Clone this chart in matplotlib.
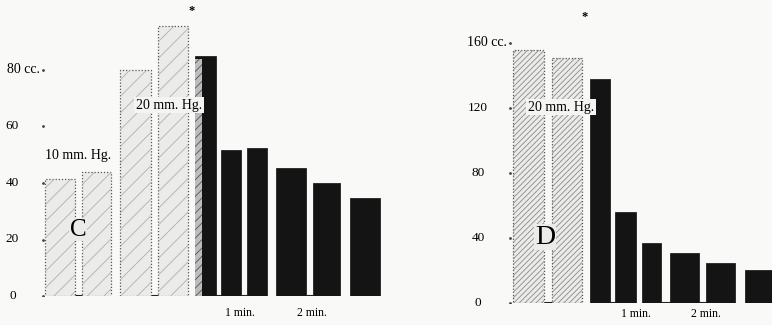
import matplotlib.pyplot as plt

plt.rcParams['font.family'] = ['Liberation Serif', 'DejaVu Serif']
plt.rcParams['hatch.linewidth'] = 0.6

# panel C (10 and 20 mm. Hg.), volumes in cc.
c_values = [41.4, 43.9, 80, 95.6, 85, 51.7, 52.4, 45.3, 40, 34.7]
c_kind = ['h', 'h', 'h', 'h', 'b', 'b', 'b', 'b', 'b', 'b']
c_ticks = [0, 20, 40, 60, 80]
c_ticklabels = ['0', '20', '40', '60', '80 cc.']

# panel D (20 mm. Hg.)
d_values = [156, 151, 138, 56, 37, 30.7, 24.6, 20.3]
d_kind = ['h', 'h', 'b', 'b', 'b', 'b', 'b', 'b']
d_ticks = [0, 40, 80, 120, 160]
d_ticklabels = ['0', '40', '80', '120', '160 cc.']

# layout (pixel units of the panels)
c_x = [60, 96.5, 135.5, 173, 205.5, 231, 257, 291, 326.5, 365]
c_w = [30, 29, 31, 30, 21, 20, 20, 30, 27, 30]
d_x = [528.5, 567, 600, 625.5, 651.5, 684.5, 720.5, 760]
d_w = [31, 30, 20, 21, 19, 29, 29, 30]

bg = '#f9f9f7'
fig = plt.figure(figsize=(7.72, 3.25), dpi=100, facecolor=bg)


def draw_panel(ax, xs, ws, vals, kinds, hatch, hatch_col):
    for x, w, v, k in zip(xs, ws, vals, kinds):
        if k == 'h':
            ax.bar(x, v, w, color='#ebebea', edgecolor='#555555',
                   linewidth=0.9, linestyle=(0, (1, 1.5)), zorder=2)
            ax.bar(x, v, w, color='none', edgecolor=hatch_col,
                   linewidth=0, hatch=hatch, zorder=3)
        else:
            ax.bar(x, v, w, color='#141414', edgecolor='#222222',
                   linewidth=0.6, zorder=2)


def style(ax, xlim, ylim):
    ax.set_xlim(*xlim)
    ax.set_ylim(*ylim)
    ax.set_facecolor(bg)
    ax.axis('off')


# ---- panel C ----
axc = fig.add_axes([0, 29 / 325, 400 / 772, 296 / 325])
style(axc, (0, 400), (0, 296 / 2.825))
draw_panel(axc, c_x, c_w, c_values, c_kind, '//', '#b0b0b0')
# hatched strip on the left of the first black bar
axc.bar(198.5, c_values[4] - 1, 7, color='#bdbdbd', edgecolor='#555555',
        linewidth=0, hatch='////', zorder=3)
axc.hlines([0] * 4, [74, 150, 215, 305], [83, 159, 248, 314], color='#222222',
           linewidth=1.5, zorder=1)
axc.plot([43] * len(c_ticks), c_ticks, '.', color='#444444', ms=2)
for t, lab in zip(c_ticks, c_ticklabels):
    if 'cc' in lab:
        axc.text(7, t, lab, ha='left', va='center', fontsize=10)
    else:
        axc.text(12.5, t, lab, ha='center', va='center', fontsize=9.5)
axc.text(78, 49.9, '10 mm. Hg.', ha='center', va='center', fontsize=10)
axc.text(169, 67.6, '20 mm. Hg.', ha='center', va='center', fontsize=10,
         zorder=5, bbox=dict(boxstyle='square,pad=0.12', fc='#f4f4f2', ec='none'))
axc.text(78, 23.4, 'C', ha='center', va='center', fontsize=18, zorder=5,
         bbox=dict(boxstyle='square,pad=0.02', fc='#ebebea', ec='none'))
axc.text(192, 101, '*', ha='center', va='center', fontsize=9, fontweight='bold')
axc.text(240, -6, '1 min.', ha='center', va='center', fontsize=8.5, clip_on=False)
axc.text(312, -6, '2 min.', ha='center', va='center', fontsize=8.5, clip_on=False)

# ---- panel D ----
axd = fig.add_axes([400 / 772, 22 / 325, 372 / 772, 303 / 325])
style(axd, (400, 772), (0, 303 / 1.625))
draw_panel(axd, d_x, d_w, d_values, d_kind, '//////', '#8a8a8a')
axd.hlines([0] * 4, [543, 609, 660, 698], [553, 616, 671, 707], color='#222222',
           linewidth=1.5, zorder=1)
axd.plot([510] * len(d_ticks), d_ticks, '.', color='#444444', ms=2)
for t, lab in zip(d_ticks, d_ticklabels):
    if 'cc' in lab:
        axd.text(467, t, lab, ha='left', va='center', fontsize=10)
    else:
        axd.text(478, t, lab, ha='center', va='center', fontsize=9.5)
axd.text(561, 120.6, '20 mm. Hg.', ha='center', va='center', fontsize=10,
         zorder=5, bbox=dict(boxstyle='square,pad=0.12', fc='#f4f4f2', ec='none'))
axd.text(545, 40.6, 'D', ha='center', va='center', fontsize=20, zorder=5,
         bbox=dict(boxstyle='square,pad=0.02', fc='#ebebea', ec='none'))
axd.text(585, 176, '*', ha='center', va='center', fontsize=9, fontweight='bold')
axd.text(636, -6.5, '1 min.', ha='center', va='center', fontsize=8.5, clip_on=False)
axd.text(706, -6.5, '2 min.', ha='center', va='center', fontsize=8.5, clip_on=False)

fig.savefig('out.png', dpi=100, facecolor=bg)
